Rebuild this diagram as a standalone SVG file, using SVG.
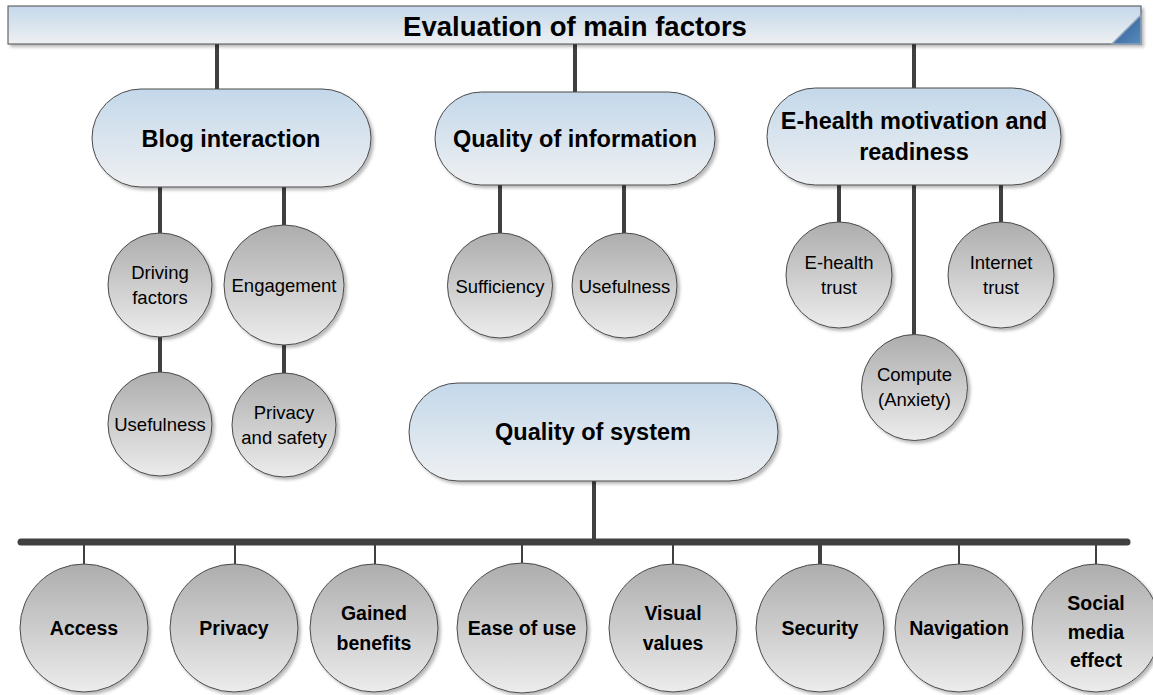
<svg xmlns="http://www.w3.org/2000/svg" width="1153" height="695" viewBox="0 0 1153 695">
<defs>
<linearGradient id="gBlue" x1="0" y1="0" x2="0" y2="1">
<stop offset="0" stop-color="#c4d8ea"/>
<stop offset="1" stop-color="#eef0f2"/>
</linearGradient>
<linearGradient id="gGray" x1="0" y1="0" x2="0" y2="1">
<stop offset="0" stop-color="#adadad"/>
<stop offset="1" stop-color="#ececec"/>
</linearGradient>
<linearGradient id="gCorner" x1="0" y1="0" x2="1" y2="1">
<stop offset="0" stop-color="#2a5a8f"/>
<stop offset="1" stop-color="#5a8bbf"/>
</linearGradient>
<filter id="sh" x="-10%" y="-10%" width="130%" height="130%">
<feDropShadow dx="2.5" dy="2.5" stdDeviation="1.5" flood-color="#000" flood-opacity="0.28"/>
</filter>
</defs>
<style>
.pill{fill:url(#gBlue);stroke:#4a4a4a;stroke-width:1;filter:url(#sh)}
.circ{fill:url(#gGray);stroke:#4a4a4a;stroke-width:1;filter:url(#sh)}
.hd{font-family:"Liberation Sans",Arial,sans-serif;font-weight:bold;font-size:23.5px;fill:#000;text-anchor:middle}
.sm{font-family:"Liberation Sans",Arial,sans-serif;font-size:18.5px;fill:#000;text-anchor:middle}
.bt{font-family:"Liberation Sans",Arial,sans-serif;font-weight:bold;font-size:19.5px;fill:#000;text-anchor:middle}
.c{stroke:#404040;stroke-width:4;fill:none}
.t{stroke:#404040;stroke-width:2;fill:none}
</style>
<rect width="1153" height="695" fill="#ffffff"/>

<g id="connectors">
<line class="c" x1="217" y1="44" x2="217" y2="89"/>
<line class="c" x1="575" y1="44" x2="575" y2="92"/>
<line class="c" x1="914" y1="44" x2="914" y2="88"/>
<line class="c" x1="160" y1="187" x2="160" y2="233"/>
<line class="c" x1="284" y1="187" x2="284" y2="225"/>
<line class="c" x1="160" y1="337" x2="160" y2="372"/>
<line class="c" x1="284" y1="345" x2="284" y2="373"/>
<line class="c" x1="500" y1="185" x2="500" y2="233"/>
<line class="c" x1="624" y1="185" x2="624" y2="233"/>
<line class="c" x1="839" y1="185" x2="839" y2="222"/>
<line class="c" x1="914" y1="185" x2="914" y2="335"/>
<line class="c" x1="1001" y1="185" x2="1001" y2="222"/>
<line class="c" x1="594" y1="481" x2="594" y2="542"/>
<line x1="21" y1="542" x2="1127" y2="542" stroke="#404040" stroke-width="7" stroke-linecap="round"/>
<line class="t" x1="84" y1="545" x2="84" y2="564"/>
<line class="t" x1="235" y1="545" x2="235" y2="564"/>
<line class="t" x1="375" y1="545" x2="375" y2="564"/>
<line class="t" x1="522" y1="545" x2="522" y2="564"/>
<line class="t" x1="673" y1="545" x2="673" y2="564"/>
<line class="c" x1="820" y1="545" x2="820" y2="564"/>
<line class="t" x1="959" y1="545" x2="959" y2="564"/>
<line class="t" x1="1096" y1="545" x2="1096" y2="564"/>
</g>

<g id="title">
<rect x="8" y="6" width="1133" height="38" fill="url(#gBlue)" stroke="#4a4a4a" stroke-width="1" filter="url(#sh)"/>
<polygon points="1112,44 1141,44 1141,15" fill="url(#gCorner)" stroke="#8fa3b8" stroke-width="1.5"/>
<text x="575" y="36" class="hd" style="font-size:27.5px">Evaluation of main factors</text>
</g>

<g id="blog">
<rect class="pill" x="92" y="89" width="279" height="98" rx="49" ry="49"/>
<text x="231" y="147" class="hd">Blog interaction</text>
</g>
<g id="quality-info">
<rect class="pill" x="435" y="92" width="280" height="93" rx="46.5" ry="46.5"/>
<text x="575" y="147" class="hd">Quality of information</text>
</g>
<g id="ehealth">
<rect class="pill" x="767" y="88" width="294" height="97" rx="48.5" ry="48.5"/>
<text x="914" y="129" class="hd">E-health motivation and</text>
<text x="914" y="160" class="hd">readiness</text>
</g>
<g id="quality-system">
<rect class="pill" x="409" y="383" width="369" height="98" rx="49" ry="49"/>
<text x="593" y="440" class="hd">Quality of system</text>
</g>

<g id="driving">
<circle class="circ" cx="160" cy="285" r="52"/>
<text x="160" y="279" class="sm">Driving</text>
<text x="160" y="304" class="sm">factors</text>
</g>
<g id="engagement">
<circle class="circ" cx="284" cy="285" r="60"/>
<text x="284" y="292" class="sm">Engagement</text>
</g>
<g id="usefulness-blog">
<circle class="circ" cx="160" cy="424" r="52"/>
<text x="160" y="431" class="sm">Usefulness</text>
</g>
<g id="privacy-safety">
<circle class="circ" cx="284" cy="425" r="52"/>
<text x="284" y="419" class="sm">Privacy</text>
<text x="284" y="444" class="sm">and safety</text>
</g>
<g id="sufficiency">
<circle class="circ" cx="500" cy="285.5" r="52.5"/>
<text x="500" y="292.5" class="sm">Sufficiency</text>
</g>
<g id="usefulness-info">
<circle class="circ" cx="624.5" cy="285.5" r="52.5"/>
<text x="624.5" y="292.5" class="sm">Usefulness</text>
</g>
<g id="ehealth-trust">
<circle class="circ" cx="839" cy="275" r="53"/>
<text x="839" y="269" class="sm">E-health</text>
<text x="839" y="294" class="sm">trust</text>
</g>
<g id="internet-trust">
<circle class="circ" cx="1001" cy="275" r="53"/>
<text x="1001" y="269" class="sm">Internet</text>
<text x="1001" y="294" class="sm">trust</text>
</g>
<g id="compute">
<circle class="circ" cx="914.5" cy="387.5" r="53"/>
<text x="914.5" y="381" class="sm">Compute</text>
<text x="914.5" y="406" class="sm">(Anxiety)</text>
</g>

<g id="access">
<circle class="circ" cx="84" cy="628" r="64"/>
<text x="84" y="635" class="bt">Access</text>
</g>
<g id="privacy">
<circle class="circ" cx="234" cy="628" r="64"/>
<text x="234" y="635" class="bt">Privacy</text>
</g>
<g id="gained">
<circle class="circ" cx="374" cy="628" r="64"/>
<text x="374" y="620" class="bt">Gained</text>
<text x="374" y="650" class="bt">benefits</text>
</g>
<g id="ease">
<circle class="circ" cx="522" cy="628" r="65"/>
<text x="522" y="635" class="bt">Ease of use</text>
</g>
<g id="visual">
<circle class="circ" cx="673" cy="628" r="64"/>
<text x="673" y="620" class="bt">Visual</text>
<text x="673" y="650" class="bt">values</text>
</g>
<g id="security">
<circle class="circ" cx="820" cy="628" r="64"/>
<text x="820" y="635" class="bt">Security</text>
</g>
<g id="navigation">
<circle class="circ" cx="959" cy="628" r="64"/>
<text x="959" y="635" class="bt">Navigation</text>
</g>
<g id="social">
<circle class="circ" cx="1096" cy="628" r="64"/>
<text x="1096" y="610" class="bt">Social</text>
<text x="1096" y="639" class="bt">media</text>
<text x="1096" y="667" class="bt">effect</text>
</g>
</svg>
